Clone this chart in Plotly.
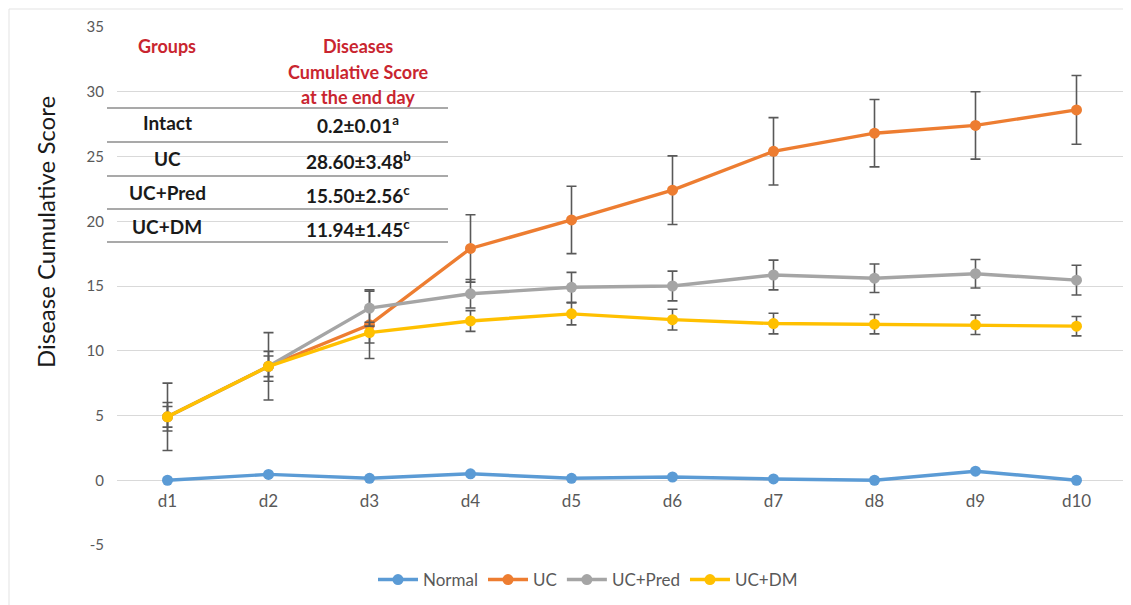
import plotly.graph_objects as go

days = ["d1", "d2", "d3", "d4", "d5", "d6", "d7", "d8", "d9", "d10"]

normal = [0.0, 0.45, 0.15, 0.5, 0.15, 0.25, 0.1, 0.0, 0.7, 0.0]
uc = [4.9, 8.8, 12.0, 17.9, 20.1, 22.4, 25.4, 26.8, 27.4, 28.6]
uc_err = [2.6, 2.6, 2.6, 2.6, 2.6, 2.65, 2.6, 2.6, 2.6, 2.65]
pred = [4.9, 8.8, 13.3, 14.4, 14.9, 15.0, 15.85, 15.6, 15.95, 15.45]
pred_err = [1.1, 1.15, 1.4, 1.1, 1.15, 1.15, 1.15, 1.1, 1.1, 1.15]
dm = [4.9, 8.8, 11.4, 12.3, 12.85, 12.4, 12.1, 12.05, 12.0, 11.9]
dm_err = [0.8, 0.8, 0.8, 0.8, 0.85, 0.8, 0.8, 0.75, 0.75, 0.75]

y_ticks = [-5, 0, 5, 10, 15, 20, 25, 30, 35]
y_tick_text = ["-5", "0", "5", "10", "15", "20", "25", "30", "35"]

table_groups = ["Intact", "UC", "UC+Pred", "UC+DM"]
table_values = ["0.2±0.01<sup>a</sup>", "28.60±3.48<sup>b</sup>",
                "15.50±2.56<sup>c</sup>", "11.94±1.45<sup>c</sup>"]

OFF = 8  # default body margin of the page
W, H = 1131 - OFF, 605 - OFF
PL, PR, PT, PB = 117, 1127, 27, 545  # plot area in page pixels
L = PL - OFF
T = PT - OFF
R = W - (PR - OFF)
B = H - (PB - OFF)
PW, PH = PR - PL, PB - PT


def px(x):
    return (x - PL) / PW


def py(y):
    return (PB - y) / PH


FONT = "Lato"
ERRC = "#595959"

fig = go.Figure()


def add_series(name, vals, color, err=None):
    kw = {}
    if err is not None:
        kw["error_y"] = dict(type="data", array=err, visible=True, color=ERRC,
                             thickness=1.6, width=5)
    fig.add_trace(go.Scatter(
        x=days, y=vals, name=name, mode="lines+markers",
        line=dict(color=color, width=3.4),
        marker=dict(color=color, size=11),
        **kw))


add_series("Normal", normal, "#5B9BD5")
add_series("UC", uc, "#ED7D31", uc_err)
add_series("UC+Pred", pred, "#A5A5A5", pred_err)
add_series("UC+DM", dm, "#FFC000", dm_err)

shapes = []
# white table background
shapes.append(dict(type="rect", xref="paper", yref="paper",
                   x0=px(106), x1=px(449), y0=py(246), y1=py(20),
                   fillcolor="white", line=dict(width=0), layer="between"))
# table lines
for yy in [108, 142, 176, 209, 242]:
    shapes.append(dict(type="line", xref="paper", yref="paper",
                       x0=px(107), x1=px(448), y0=py(yy), y1=py(yy),
                       line=dict(color="#8C8C8C", width=1.5), layer="above"))
# faint outer frame (top and left edges)
shapes.append(dict(type="line", xref="paper", yref="paper",
                   x0=px(9), x1=px(1131), y0=py(9), y1=py(9),
                   line=dict(color="#E3E3E3", width=1)))
shapes.append(dict(type="line", xref="paper", yref="paper",
                   x0=px(9), x1=px(9), y0=py(9), y1=py(605),
                   line=dict(color="#E3E3E3", width=1)))

annotations = []
RED = "#C9252F"


def ann(text, x, y, size=19, color="#1a1a1a", **kw):
    annotations.append(dict(text=text, x=px(x), y=py(y), xref="paper", yref="paper",
                            xanchor="center", yanchor="middle", showarrow=False,
                            font=dict(family=FONT, size=size, color=color), **kw))


ann("<b>Groups</b>", 167, 46, size=18, color=RED)
for i, t in enumerate(["Diseases", "Cumulative Score", "at the end day"]):
    ann("<b>%s</b>" % t, 358, 46 + 25.5 * i, size=18, color=RED)
row_y = [123, 158, 192, 226]
for g, v, yy in zip(table_groups, table_values, row_y):
    ann("<b>%s</b>" % g, 167, yy)
    ann("<b>%s</b>" % v, 358, yy + 2)
ann("Disease Cumulative Score", 45, 232, size=24, textangle=-90)

fig.update_layout(
    width=W, height=H,
    margin=dict(l=L, r=R, t=T, b=B),
    paper_bgcolor="white", plot_bgcolor="white",
    font=dict(family=FONT, color="#595959"),
    showlegend=True,
    legend=dict(orientation="h", x=px(588), xanchor="center", y=py(580), yanchor="middle",
                font=dict(family=FONT, size=17, color="#595959"), itemwidth=40,
                traceorder="normal"),
    shapes=shapes,
    annotations=annotations,
    xaxis=dict(type="category", range=[-0.5, 9.5], showgrid=False, zeroline=False,
               showline=False, anchor="free", position=py(480),
               tickfont=dict(family=FONT, size=17, color="#595959"),
               ticklabelstandoff=9),
    yaxis=dict(range=[-5, 35], tickvals=y_ticks, ticktext=y_tick_text,
               showgrid=True, gridcolor="#D9D9D9", gridwidth=1,
               zeroline=False, showline=False,
               tickfont=dict(family=FONT, size=15, color="#595959"),
               ticklabelstandoff=12),
)

fig.write_html("out.html")
